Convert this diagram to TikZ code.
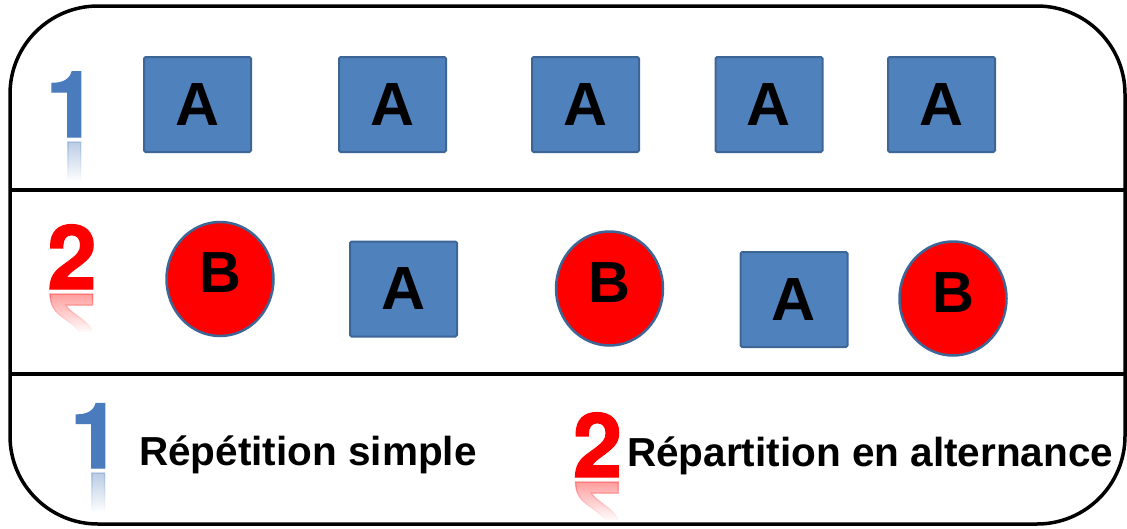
\documentclass[tikz,border=0pt]{standalone}
\usepackage{fontspec}
\setmainfont{Liberation Sans}
\newfontfamily\digitfont[BoldFeatures={FakeBold=1.5}]{TeX Gyre Heros}
\usetikzlibrary{shapes.geometric,fadings}

\definecolor{boxblue}{HTML}{4F81BD}
\definecolor{boxedge}{HTML}{3D6696}
\definecolor{numblue}{HTML}{4A7BBC}
\definecolor{numred}{HTML}{FF0000}

\begin{document}
\begin{tikzpicture}[x=1pt,y=-1pt,
    sqA/.style={rectangle, fill=boxblue, draw=boxedge, line width=2pt,
      rounded corners=1.5pt, minimum width=107pt, minimum height=95pt,
      inner sep=0pt, font=\fontsize{61}{61}\selectfont\bfseries},
    circB/.style={ellipse, fill=numred, draw=boxedge, line width=2.5pt,
      minimum width=107pt, minimum height=114pt, inner sep=0pt},
    letterB/.style={inner sep=0pt, font=\fontsize{58}{58}\selectfont\bfseries},
    numtxt/.style={inner sep=0pt, anchor=base},
    legend/.style={inner sep=0pt, anchor=base west,
      font=\fontsize{40.5}{40.5}\selectfont\bfseries}]
  \useasboundingbox (0,0) rectangle (1127,528);

  % big digit with its faded mirror image below
  \newcommand{\mirnum}[6]{%
    \node[numtxt, text=#5, font=\fontsize{#4}{#4}\selectfont\digitfont\bfseries] (#1) at (#2,#3) {#6};
    \node[numtxt, text=#5, font=\fontsize{#4}{#4}\selectfont\digitfont\bfseries,
      yscale=-1, opacity=.4] (#1r) at (#2,#3+5) {#6};
    \fill[white, path fading=north] (#2-34,#3+3) rectangle (#2+34,#3+44);
    \fill[white] (#2-34,#3+43) rectangle (#2+34,#3+78);
  }
  \mirnum{n1}{71.5}{137}{92}{numblue}{1}
  \mirnum{n2}{72}{289}{89}{numred}{2}
  \mirnum{k1}{95.5}{468}{91}{numblue}{1}
  \mirnum{k2}{597.5}{477}{89}{numred}{2}

  % frame and the two rows
  \begin{scope}[line width=3.5pt]
    \draw[rounded corners=88pt] (10,6) rectangle (1125,524);
    \draw (10,190) -- (1125,190);
    \draw (10,374) -- (1125,374);
  \end{scope}

  % row 1: simple repetition
  \foreach \x [count=\i] in {197.5,392.5,585.5,769,941.5}
    \node[sqA] (a\i) at (\x,104.5) {A};

  % row 2: alternation
  \node[circB] (b1) at (220,279) {};
  \node[letterB] (b1l) at ([yshift=6pt]b1.center) {B};
  \node[sqA] (a6) at (403.5,289) {A};
  \node[circB] (b2) at (609.5,288.5) {};
  \node[letterB] (b2l) at ([yshift=6pt]b2.center) {B};
  \node[sqA] (a7) at (794,299.5) {A};
  \node[circB] (b3) at (953,298.5) {};
  \node[letterB] (b3l) at ([yshift=6pt]b3.center) {B};

  % legend
  \node[legend] (t1) at (139,465) {Répétition simple};
  \node[legend] (t2) at (627,466) {Répartition en alternance};
\end{tikzpicture}
\end{document}
